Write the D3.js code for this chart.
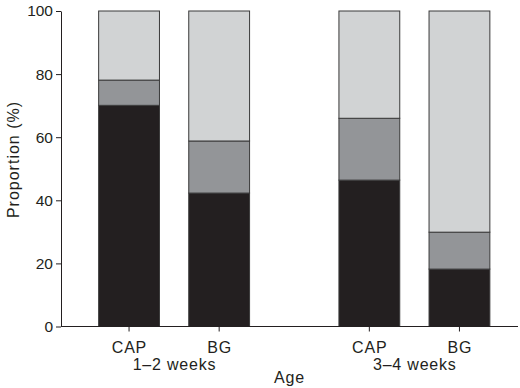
<!DOCTYPE html>
<html>
<head>
<meta charset="utf-8">
<script src="https://cdn.jsdelivr.net/npm/d3@7"></script>
<style>
html,body{margin:0;padding:0;background:#fff;}
text{font-family:"Liberation Sans",Arial,sans-serif;fill:#231f20;}
</style>
</head>
<body>
<svg id="chart" width="520" height="388"></svg>
<script>
// Data
const groups = ["1–2 weeks", "3–4 weeks"];
const treatments = ["CAP", "BG"];
// stacked segments bottom→top (proportions %)
const seriesNames = ["dark", "mid", "light"];
const darkVals  = [70.1, 42.3, 46.4, 18.2];
const midVals   = [8.0, 16.5, 19.6, 11.7];
const lightVals = [21.9, 41.2, 34.0, 70.1];
const yTicks = [0, 20, 40, 60, 80, 100];
const colors = ["#231f20", "#939598", "#d1d3d4"];

const data = [];
groups.forEach((g, gi) => treatments.forEach((t, ti) => {
  const i = gi * 2 + ti;
  data.push({group: g, treat: t, dark: darkVals[i], mid: midVals[i], light: lightVals[i]});
}));

const svg = d3.select("#chart");
const plotLeft = 61, plotRight = 518, plotTop = 11, plotBottom = 326.5;

const y = d3.scaleLinear().domain([0, 100]).range([plotBottom, plotTop]);
const xOuter = d3.scaleBand().domain(groups).range([84, 504.5]).paddingInner(0.25).paddingOuter(0);
const xInner = d3.scaleBand().domain(treatments).range([0, xOuter.bandwidth()]).paddingInner(0.325).paddingOuter(0.1625);

const stack = d3.stack().keys(seriesNames);
const stacked = stack(data);

const g = svg.append("g");
stacked.forEach((layer, li) => {
  g.selectAll(null).data(layer).enter().append("rect")
    .attr("x", d => xOuter(d.data.group) + xInner(d.data.treat))
    .attr("width", xInner.bandwidth())
    .attr("y", d => y(d[1]))
    .attr("height", d => y(d[0]) - y(d[1]))
    .attr("fill", colors[li])
    .attr("stroke", "#3a3a3a")
    .attr("stroke-width", 1);
});

// Y axis
const yAxis = d3.axisLeft(y).tickValues(yTicks).tickSize(5).tickSizeOuter(0).tickPadding(3);
const ya = svg.append("g").attr("transform", `translate(${plotLeft},0)`).call(yAxis);
ya.select(".domain").attr("stroke", "#231f20");
ya.selectAll(".tick line").attr("stroke", "#231f20");
ya.selectAll(".tick text").attr("font-size", 15.5).attr("font-family", "Liberation Sans, Arial, sans-serif").attr("fill", "#231f20");

// X axis baseline
svg.append("line").attr("x1", plotLeft).attr("x2", plotRight)
  .attr("y1", plotBottom).attr("y2", plotBottom).attr("stroke", "#231f20").attr("stroke-width", 1);

const fs = 16, ls = 0.8;
// X ticks and labels
data.forEach(d => {
  const cx = xOuter(d.group) + xInner(d.treat) + xInner.bandwidth() / 2;
  svg.append("line").attr("x1", cx).attr("x2", cx).attr("y1", plotBottom).attr("y2", plotBottom + 5).attr("stroke", "#231f20");
  svg.append("text").attr("x", cx + ls / 2).attr("y", 353).attr("text-anchor", "middle")
    .attr("font-size", fs).attr("letter-spacing", ls).text(d.treat);
});
groups.forEach(gr => {
  svg.append("text").attr("x", xOuter(gr) + xOuter.bandwidth() / 2 + ls / 2).attr("y", 369.5)
    .attr("text-anchor", "middle").attr("font-size", fs).attr("letter-spacing", ls).text(gr);
});

svg.append("text").attr("x", 289.5).attr("y", 383).attr("text-anchor", "middle")
  .attr("font-size", fs).attr("letter-spacing", ls).text("Age");
svg.append("text").attr("transform", `translate(18.5,159.5) rotate(-90)`)
  .attr("text-anchor", "middle").attr("font-size", fs).attr("letter-spacing", 1.0).text("Proportion (%)");
</script>
</body>
</html>
